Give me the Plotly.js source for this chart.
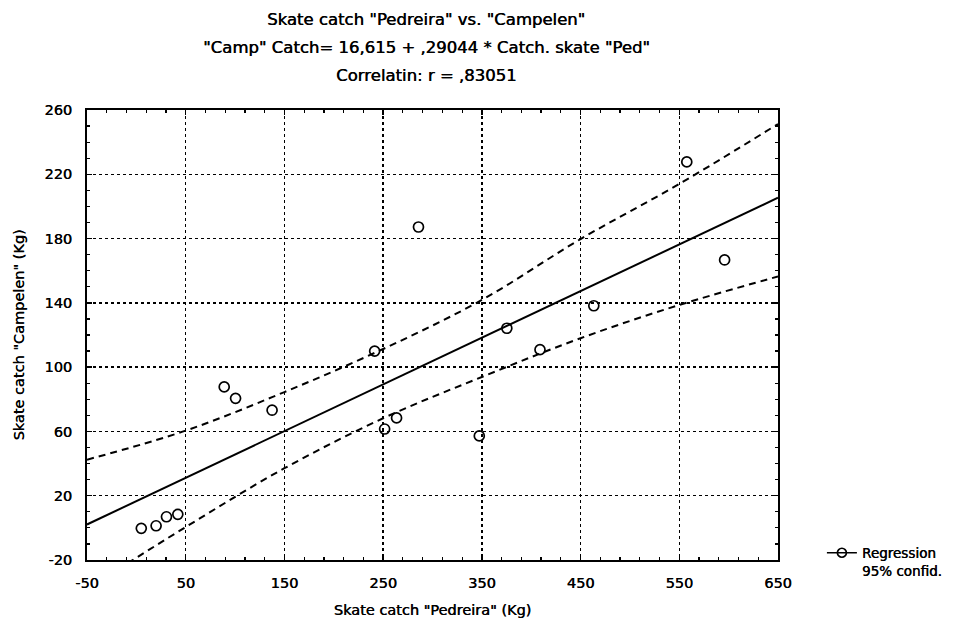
<!DOCTYPE html>
<html>
<head>
<meta charset="utf-8">
<script src="https://cdn.plot.ly/plotly-3.0.1.min.js"></script>
<style>html,body{margin:0;padding:0;background:#fff;}#chart{width:958px;height:630px;}</style>
</head>
<body>
<div id="chart"></div>
<script>
// Observed catches (Kg)
const pedreira = [5, 20, 30.5, 42, 89, 100.5, 137.5, 241.4, 251.5, 263.6, 285.8, 347.4, 375.3, 408.9, 463.4, 557.6, 595.9];
const campelen = [-0.3, 1.3, 6.9, 8.4, 87.7, 80.6, 73.2, 110, 61.5, 68.4, 187.2, 57.2, 124.2, 110.9, 138.2, 227.7, 166.7];

// Regression line end points
const regX = [-50, 650];
const regY = [2.1, 205.4];

// 95% confidence bands
const bandX = [-50, 50, 150, 250, 350, 450, 550, 650];
const upperY = [42.4, 60.5, 84.5, 111.3, 141.8, 179.7, 214, 251.3];
const lowerY = [-38, 0.5, 37.1, 68.2, 93.9, 118, 138.7, 156.4];

const xTicks = [-50, 50, 150, 250, 350, 450, 550, 650];
const yTicks = [-20, 20, 60, 100, 140, 180, 220, 260];

const titleLines = [
  'Skate catch "Pedreira" vs. "Campelen"',
  '"Camp" Catch= 16,615 + ,29044 * Catch. skate "Ped"',
  'Correlatin: r = ,83051'
];
const titleY = [1.202, 1.140, 1.0756];

const FONT = 'DejaVu Sans, Liberation Sans, sans-serif';
const SHADOW = '0.45px 0px 0px #000';

const traces = [
  {x: bandX, y: upperY, mode: 'lines', line: {color: '#000', width: 2, dash: '7px,5px', shape: 'spline'}, showlegend: false, hoverinfo: 'skip'},
  {x: bandX, y: lowerY, mode: 'lines', line: {color: '#000', width: 2, dash: '7px,5px', shape: 'spline'}, showlegend: false, hoverinfo: 'skip'},
  {x: regX, y: regY, mode: 'lines', line: {color: '#000', width: 2}, showlegend: false},
  {x: pedreira, y: campelen, mode: 'markers', marker: {symbol: 'circle-open', size: 10, color: '#000', line: {width: 1.7, color: '#000'}}, showlegend: false},
  {x: [null], y: [null], mode: 'lines+markers', name: 'Regression<br>95% confid.', line: {color: '#000', width: 1.7}, marker: {symbol: 'circle-open', size: 9, color: '#000', line: {width: 1.7}}, showlegend: true}
];

const axisCommon = {
  showline: true, linecolor: '#000', linewidth: 2, mirror: 'ticks',
  ticks: 'inside', ticklen: 5, tickcolor: '#000', tickwidth: 1.5,
  showgrid: true, gridcolor: '#000', griddash: 'dot', gridwidth: 1.5,
  zeroline: false,
  tickfont: {family: FONT, size: 14.5, color: '#000', shadow: SHADOW},
  minor: {ticks: 'inside', ticklen: 3, tickcolor: '#000', tickwidth: 1.2, showgrid: false}
};

const layout = {
  width: 958, height: 630,
  paper_bgcolor: '#fff', plot_bgcolor: '#fff',
  margin: {l: 87, r: 179, t: 110, b: 70},
  font: {family: FONT, color: '#000'},
  xaxis: Object.assign({}, axisCommon, {
    range: [-50, 650], tickvals: xTicks, ticktext: xTicks.map(String),
    minor: Object.assign({}, axisCommon.minor, {dtick: 20, tick0: -50}),
    ticklabelstandoff: 9,
    title: {text: 'Skate catch "Pedreira" (Kg)', font: {family: FONT, size: 14.5, color: '#000', shadow: SHADOW}, standoff: 14}
  }),
  yaxis: Object.assign({}, axisCommon, {
    range: [-20, 260], tickvals: yTicks, ticktext: yTicks.map(String),
    minor: Object.assign({}, axisCommon.minor, {dtick: 10, tick0: -20}),
    ticklabelstandoff: 10,
    title: {text: 'Skate catch "Campelen" (Kg)', font: {family: FONT, size: 14.5, color: '#000', shadow: SHADOW}, standoff: 16}
  }),
  legend: {x: 1.062, y: 0.05, xanchor: 'left', yanchor: 'top', valign: 'top', bgcolor: 'rgba(0,0,0,0)',
    font: {family: FONT, size: 13.5, color: '#000', shadow: SHADOW}, itemwidth: 30},
  annotations: titleLines.map((t, i) => ({
    text: t, xref: 'paper', yref: 'paper', x: 0.491, y: titleY[i],
    xanchor: 'center', yanchor: 'middle', showarrow: false,
    font: {family: FONT, size: 16.5, color: '#000', shadow: SHADOW}
  }))
};

Plotly.newPlot('chart', traces, layout, {displayModeBar: false, staticPlot: true});
</script>
</body>
</html>
